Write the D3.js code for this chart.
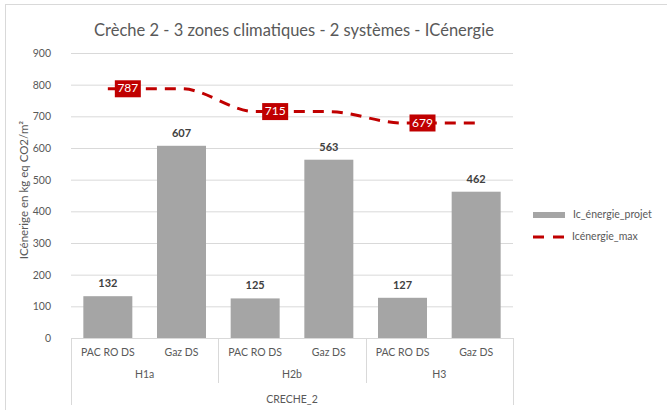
<!DOCTYPE html>
<html><head><meta charset="utf-8">
<script src="https://cdn.jsdelivr.net/npm/d3@7"></script>
<style>
html,body{margin:0;padding:0;background:#fff;}
svg text{font-family:Lato,"Open Sans",sans-serif;}
</style></head>
<body><svg id="c" width="667" height="410"></svg>
<script>
const title = "Crèche 2 - 3 zones climatiques - 2 systèmes - ICénergie";
const yTitle = "ICénerige en kg eq CO2/m²";
const systems = ["PAC RO DS","Gaz DS","PAC RO DS","Gaz DS","PAC RO DS","Gaz DS"];
const zones = ["H1a","H2b","H3"];
const building = "CRECHE_2";
const projet = [132,607,125,563,127,462];
const icMax = [787,787,715,715,679,679];
const maxLabelShown = [true,false,true,false,true,false];
const yTicks = [0,100,200,300,400,500,600,700,800,900];
const seriesNames = ["Ic_énergie_projet","Icénergie_max"];

const svg = d3.select("#c");
const L = 71, R = 513, T = 53, B = 338;
const grey = "#A5A5A5", red = "#C00000", txt = "#595959";

// frame
svg.append("rect").attr("x",5.5).attr("y",4.5).attr("width",700).attr("height",500)
  .attr("fill","none").attr("stroke","#d9d9d9");

const x = d3.scaleBand().domain(d3.range(systems.length)).range([L,R])
  .paddingInner(0.335).paddingOuter(0.1675);
const y = d3.scaleLinear().domain([0,900]).range([B,T]);

// gridlines
svg.append("g").selectAll("line").data(yTicks.filter(d=>d>0)).join("line")
  .attr("x1",L).attr("x2",R).attr("y1",d=>y(d)+0.5).attr("y2",d=>y(d)+0.5)
  .attr("stroke","#d9d9d9").attr("stroke-width",1);

// y axis labels
const yAxis = d3.axisLeft(y).tickValues(yTicks).tickSize(0).tickPadding(0);
const ya = svg.append("g").attr("transform",`translate(${L-20},0)`).call(yAxis);
ya.select(".domain").remove();
ya.selectAll("text").attr("fill",txt).style("font-size","10.5px").style("font-family","Lato,sans-serif");

// y title
svg.append("text").attr("transform",`translate(25,190) rotate(-90)`)
  .attr("text-anchor","middle").attr("dominant-baseline","middle")
  .attr("fill",txt).style("font-size","11.5px").text(yTitle);

// title
svg.append("text").attr("x",(L+R)/2+2).attr("y",32).attr("text-anchor","middle")
  .attr("dominant-baseline","middle").attr("fill",txt).style("font-size","16.5px").text(title);

// bars
svg.append("g").selectAll("rect").data(projet).join("rect")
  .attr("x",(d,i)=>x(i)).attr("width",x.bandwidth())
  .attr("y",d=>y(d)).attr("height",d=>y(0)-y(d)).attr("fill",grey);

// bar labels
svg.append("g").selectAll("text").data(projet).join("text")
  .attr("x",(d,i)=>x(i)+x.bandwidth()/2).attr("y",d=>y(d)-12)
  .attr("text-anchor","middle").attr("dominant-baseline","middle")
  .attr("fill","#404040").style("font-size","11px").style("font-weight","bold").text(d=>d);

// baseline + category axis
const cat = svg.append("g").attr("stroke","#d9d9d9").attr("stroke-width",1);
cat.append("line").attr("x1",L).attr("x2",R).attr("y1",B+0.5).attr("y2",B+0.5);
const groupEdges = [0,2,4,6].map(i=> L + i*(R-L)/6);
groupEdges.forEach((gx,k)=>{
  const outer = (k===0||k===groupEdges.length-1);
  cat.append("line").attr("x1",Math.round(gx)+0.5).attr("x2",Math.round(gx)+0.5)
    .attr("y1",B).attr("y2",outer?405:383);
});
svg.append("g").selectAll("text").data(systems).join("text")
  .attr("x",(d,i)=>x(i)+x.bandwidth()/2).attr("y",353)
  .attr("text-anchor","middle").attr("dominant-baseline","middle")
  .attr("fill",txt).style("font-size","10.5px").text(d=>d);
svg.append("g").selectAll("text").data(zones).join("text")
  .attr("x",(d,i)=>(x(2*i)+x(2*i+1)+x.bandwidth())/2).attr("y",375)
  .attr("text-anchor","middle").attr("dominant-baseline","middle")
  .attr("fill",txt).style("font-size","10.5px").text(d=>d);
svg.append("text").attr("x",(L+R)/2).attr("y",400)
  .attr("text-anchor","middle").attr("dominant-baseline","middle")
  .attr("fill",txt).style("font-size","10.5px").text(building);

// max line
const line = d3.line().x((d,i)=>x(i)+x.bandwidth()/2).y(d=>y(d)).curve(d3.curveMonotoneX);
svg.append("path").datum(icMax).attr("d",line).attr("fill","none")
  .attr("stroke",red).attr("stroke-width",3).attr("stroke-dasharray","11,8");

// max labels
const lab = svg.append("g").selectAll("g").data(icMax.map((v,i)=>({v,i})).filter(d=>maxLabelShown[d.i])).join("g")
  .attr("transform",d=>`translate(${x(d.i)+x.bandwidth()/2+7},${y(d.v)})`);
lab.append("rect").attr("x",0).attr("y",-8.5).attr("width",26).attr("height",17).attr("fill",red);
lab.append("text").attr("x",13).attr("y",0.5).attr("text-anchor","middle").attr("dominant-baseline","middle")
  .attr("fill","#fff").style("font-size","12px").text(d=>d.v);

// legend
const lg = svg.append("g");
lg.append("rect").attr("x",533).attr("y",212).attr("width",32).attr("height",6).attr("fill",grey);
lg.append("text").attr("x",573).attr("y",215.5).attr("dominant-baseline","middle")
  .attr("fill",txt).style("font-size","10.5px").text(seriesNames[0]);
lg.append("line").attr("x1",533).attr("x2",565).attr("y1",237).attr("y2",237)
  .attr("stroke",red).attr("stroke-width",3).attr("stroke-dasharray","11,9");
lg.append("text").attr("x",572).attr("y",237.5).attr("dominant-baseline","middle")
  .attr("fill",txt).style("font-size","10.5px").text(seriesNames[1]);
</script></body></html>
